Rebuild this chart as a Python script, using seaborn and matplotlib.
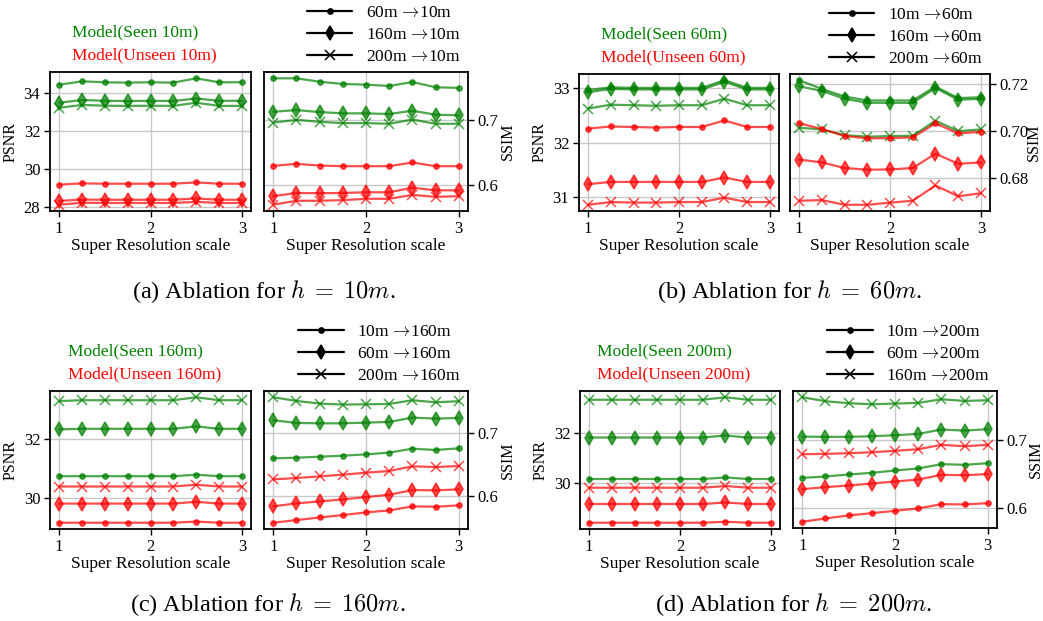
import numpy as np
import pandas as pd
import seaborn as sns
import matplotlib.pyplot as plt
from matplotlib.lines import Line2D
from matplotlib.ticker import FormatStrFormatter

# ---------------------------------------------------------------- data
scale = [1, 1.25, 1.5, 1.75, 2, 2.25, 2.5, 2.75, 3]

# (a) target height 10m, sources 60m / 160m / 200m
a_psnr_seen_60 = [34.45, 34.63, 34.58, 34.56, 34.58, 34.56, 34.79, 34.58, 34.58]
a_psnr_seen_160 = [33.50, 33.64, 33.60, 33.59, 33.60, 33.59, 33.72, 33.60, 33.60]
a_psnr_seen_200 = [33.23, 33.38, 33.34, 33.33, 33.34, 33.33, 33.50, 33.33, 33.33]
a_psnr_unseen_60 = [29.16, 29.23, 29.21, 29.21, 29.21, 29.21, 29.28, 29.21, 29.21]
a_psnr_unseen_160 = [28.30, 28.37, 28.36, 28.36, 28.36, 28.36, 28.43, 28.36, 28.36]
a_psnr_unseen_200 = [28.10, 28.20, 28.19, 28.19, 28.19, 28.19, 28.25, 28.19, 28.19]
a_ssim_seen_60 = [0.7637, 0.7637, 0.7585, 0.7550, 0.7540, 0.7520, 0.7580, 0.7500, 0.7490]
a_ssim_seen_160 = [0.7124, 0.7150, 0.7120, 0.7100, 0.7100, 0.7090, 0.7140, 0.7080, 0.7070]
a_ssim_seen_200 = [0.6959, 0.7000, 0.6970, 0.6950, 0.6950, 0.6940, 0.7005, 0.6940, 0.6940]
a_ssim_unseen_60 = [0.6295, 0.6326, 0.6300, 0.6290, 0.6290, 0.6290, 0.6347, 0.6290, 0.6290]
a_ssim_unseen_160 = [0.5830, 0.5880, 0.5876, 0.5880, 0.5890, 0.5890, 0.5960, 0.5920, 0.5920]
a_ssim_unseen_200 = [0.5700, 0.5760, 0.5760, 0.5770, 0.5790, 0.5790, 0.5850, 0.5820, 0.5830]

# (b) target height 60m, sources 10m / 160m / 200m
b_psnr_seen_10 = [32.97, 33.02, 33.01, 33.01, 33.01, 33.01, 33.15, 33.01, 33.01]
b_psnr_seen_160 = [32.93, 32.99, 32.98, 32.98, 32.98, 32.98, 33.12, 32.98, 32.98]
b_psnr_seen_200 = [32.63, 32.70, 32.69, 32.68, 32.69, 32.69, 32.81, 32.69, 32.69]
b_psnr_unseen_10 = [32.26, 32.30, 32.29, 32.28, 32.29, 32.29, 32.41, 32.29, 32.29]
b_psnr_unseen_160 = [31.24, 31.28, 31.28, 31.28, 31.28, 31.28, 31.36, 31.28, 31.28]
b_psnr_unseen_200 = [30.86, 30.91, 30.90, 30.90, 30.91, 30.91, 30.99, 30.91, 30.91]
b_ssim_seen_10 = [0.7216, 0.7179, 0.7147, 0.7130, 0.7130, 0.7130, 0.7189, 0.7140, 0.7144]
b_ssim_seen_160 = [0.7190, 0.7171, 0.7137, 0.7120, 0.7120, 0.7120, 0.7183, 0.7133, 0.7137]
b_ssim_seen_200 = [0.7014, 0.7007, 0.6983, 0.6976, 0.6979, 0.6980, 0.7044, 0.7000, 0.7007]
b_ssim_unseen_10 = [0.7033, 0.7009, 0.6979, 0.6969, 0.6970, 0.6973, 0.7033, 0.6990, 0.6997]
b_ssim_unseen_160 = [0.6879, 0.6867, 0.6843, 0.6836, 0.6837, 0.6843, 0.6904, 0.6861, 0.6867]
b_ssim_unseen_200 = [0.6704, 0.6707, 0.6687, 0.6687, 0.6696, 0.6704, 0.6769, 0.6723, 0.6736]

# (c) target height 160m, sources 10m / 60m / 200m
c_psnr_seen_10 = [30.73, 30.73, 30.73, 30.73, 30.73, 30.73, 30.78, 30.73, 30.73]
c_psnr_seen_60 = [32.32, 32.34, 32.34, 32.34, 32.34, 32.34, 32.42, 32.34, 32.34]
c_psnr_seen_200 = [33.28, 33.31, 33.31, 33.31, 33.31, 33.31, 33.41, 33.31, 33.31]
c_psnr_unseen_10 = [29.15, 29.15, 29.15, 29.15, 29.15, 29.15, 29.19, 29.15, 29.15]
c_psnr_unseen_60 = [29.80, 29.80, 29.80, 29.80, 29.80, 29.80, 29.86, 29.80, 29.80]
c_psnr_unseen_200 = [30.38, 30.38, 30.38, 30.38, 30.38, 30.38, 30.44, 30.38, 30.38]
c_ssim_seen_10 = [0.6598, 0.6608, 0.6624, 0.6640, 0.6661, 0.6688, 0.6751, 0.6730, 0.6757]
c_ssim_seen_60 = [0.7201, 0.7159, 0.7153, 0.7153, 0.7164, 0.7175, 0.7243, 0.7228, 0.7238]
c_ssim_seen_200 = [0.7566, 0.7508, 0.7466, 0.7450, 0.7455, 0.7460, 0.7519, 0.7487, 0.7503]
c_ssim_unseen_10 = [0.5577, 0.5619, 0.5661, 0.5698, 0.5741, 0.5772, 0.5836, 0.5830, 0.5852]
c_ssim_unseen_60 = [0.5836, 0.5884, 0.5915, 0.5947, 0.5984, 0.6021, 0.6095, 0.6090, 0.6106]
c_ssim_unseen_200 = [0.6265, 0.6286, 0.6312, 0.6339, 0.6370, 0.6397, 0.6471, 0.6460, 0.6476]

# (d) target height 200m, sources 10m / 60m / 160m
d_psnr_seen_10 = [30.15, 30.15, 30.15, 30.15, 30.15, 30.15, 30.21, 30.15, 30.15]
d_psnr_seen_60 = [31.81, 31.81, 31.81, 31.81, 31.81, 31.81, 31.89, 31.81, 31.81]
d_psnr_seen_160 = [33.32, 33.32, 33.32, 33.32, 33.32, 33.32, 33.42, 33.32, 33.32]
d_psnr_unseen_10 = [28.40, 28.40, 28.40, 28.40, 28.40, 28.40, 28.44, 28.40, 28.40]
d_psnr_unseen_60 = [29.15, 29.15, 29.15, 29.15, 29.15, 29.15, 29.21, 29.15, 29.15]
d_psnr_unseen_160 = [29.80, 29.80, 29.80, 29.80, 29.80, 29.80, 29.87, 29.80, 29.80]
d_ssim_seen_10 = [0.6444, 0.6464, 0.6493, 0.6517, 0.6551, 0.6580, 0.6643, 0.6633, 0.6657]
d_ssim_seen_60 = [0.7043, 0.7039, 0.7039, 0.7048, 0.7063, 0.7082, 0.7145, 0.7130, 0.7150]
d_ssim_seen_160 = [0.7614, 0.7556, 0.7527, 0.7512, 0.7522, 0.7531, 0.7585, 0.7560, 0.7570]
d_ssim_unseen_10 = [0.5807, 0.5855, 0.5899, 0.5932, 0.5966, 0.6000, 0.6063, 0.6058, 0.6077]
d_ssim_unseen_60 = [0.6280, 0.6310, 0.6333, 0.6362, 0.6391, 0.6420, 0.6488, 0.6483, 0.6498]
d_ssim_unseen_160 = [0.6787, 0.6792, 0.6802, 0.6816, 0.6836, 0.6860, 0.6923, 0.6903, 0.6923]

panels = [
    dict(tag="a", target="10m", sources=["60m", "160m", "200m"],
         psnr_seen=[a_psnr_seen_60, a_psnr_seen_160, a_psnr_seen_200],
         psnr_unseen=[a_psnr_unseen_60, a_psnr_unseen_160, a_psnr_unseen_200],
         ssim_seen=[a_ssim_seen_60, a_ssim_seen_160, a_ssim_seen_200],
         ssim_unseen=[a_ssim_unseen_60, a_ssim_unseen_160, a_ssim_unseen_200],
         psnr_ticks=[28, 30, 32, 34], ssim_ticks=[0.6, 0.7], ssim_fmt="%.1f"),
    dict(tag="b", target="60m", sources=["10m", "160m", "200m"],
         psnr_seen=[b_psnr_seen_10, b_psnr_seen_160, b_psnr_seen_200],
         psnr_unseen=[b_psnr_unseen_10, b_psnr_unseen_160, b_psnr_unseen_200],
         ssim_seen=[b_ssim_seen_10, b_ssim_seen_160, b_ssim_seen_200],
         ssim_unseen=[b_ssim_unseen_10, b_ssim_unseen_160, b_ssim_unseen_200],
         psnr_ticks=[31, 32, 33], ssim_ticks=[0.68, 0.70, 0.72], ssim_fmt="%.2f"),
    dict(tag="c", target="160m", sources=["10m", "60m", "200m"],
         psnr_seen=[c_psnr_seen_10, c_psnr_seen_60, c_psnr_seen_200],
         psnr_unseen=[c_psnr_unseen_10, c_psnr_unseen_60, c_psnr_unseen_200],
         ssim_seen=[c_ssim_seen_10, c_ssim_seen_60, c_ssim_seen_200],
         ssim_unseen=[c_ssim_unseen_10, c_ssim_unseen_60, c_ssim_unseen_200],
         psnr_ticks=[30, 32], ssim_ticks=[0.6, 0.7], ssim_fmt="%.1f"),
    dict(tag="d", target="200m", sources=["10m", "60m", "160m"],
         psnr_seen=[d_psnr_seen_10, d_psnr_seen_60, d_psnr_seen_160],
         psnr_unseen=[d_psnr_unseen_10, d_psnr_unseen_60, d_psnr_unseen_160],
         ssim_seen=[d_ssim_seen_10, d_ssim_seen_60, d_ssim_seen_160],
         ssim_unseen=[d_ssim_unseen_10, d_ssim_unseen_60, d_ssim_unseen_160],
         psnr_ticks=[30, 32], ssim_ticks=[0.6, 0.7], ssim_fmt="%.1f"),
]

# ---------------------------------------------------------------- style
sns.set_theme(style="whitegrid")
plt.rcParams.update({
    "font.family": ["Liberation Serif", "DejaVu Serif"],
    "mathtext.fontset": "cm",
    "axes.edgecolor": "black",
    "axes.linewidth": 1.3,
    "grid.color": "#c8c8c8",
    "grid.linewidth": 1.0,
    "xtick.bottom": True,
    "ytick.left": True,
    "xtick.major.size": 4,
    "ytick.major.size": 4,
    "xtick.major.width": 1.0,
    "ytick.major.width": 1.0,
    "xtick.major.pad": 3,
    "ytick.major.pad": 3,
    "xtick.color": "black",
    "ytick.color": "black",
    "xtick.labelsize": 12,
    "ytick.labelsize": 12,
    "axes.labelsize": 12.5,
    "axes.labelcolor": "black",
    "text.color": "black",
})

SEEN = "green"
UNSEEN = "red"
MARKERS = [".", "d", "x"]
MSIZE = {".": 7.5, "d": 7.5, "x": 6.5}
YLABEL_SIZE = 11.5

fig = plt.figure(figsize=(10.43, 6.21), dpi=100)
W, H = 1043.0, 621.0


def add_axes(left, right, top, bottom):
    return fig.add_axes([left / W, 1 - bottom / H, (right - left) / W, (bottom - top) / H])


# pixel boxes of the eight axes: (left, right, top, bottom), and the
# distance in pixels from the right spine to the SSIM label
boxes = {
    "a": [(50, 251, 72, 211), (264, 468, 72, 211), 32],
    "b": [(579, 779, 74, 211), (790, 990, 74, 211), 36],
    "c": [(50, 251, 391, 529), (264, 468, 391, 529), 32],
    "d": [(580, 780, 391, 529), (793, 997, 391, 528), 31],
}
captions = {"a": (264, 292), "b": (790, 292), "c": (268, 605), "d": (794, 605)}


def draw_series(ax, values, color, marker):
    sns.lineplot(x=scale, y=values, ax=ax, color=color, marker=marker,
                 markersize=MSIZE[marker], markeredgecolor=color,
                 markerfacecolor=color, markeredgewidth=1.1,
                 linewidth=1.6, alpha=0.7, legend=False)


for p in panels:
    lb, rb, label_off = boxes[p["tag"]]
    ax_p = add_axes(*lb)
    ax_s = add_axes(*rb)

    for vals, m in zip(p["psnr_seen"], MARKERS):
        draw_series(ax_p, vals, SEEN, m)
    for vals, m in zip(p["psnr_unseen"], MARKERS):
        draw_series(ax_p, vals, UNSEEN, m)
    for vals, m in zip(p["ssim_seen"], MARKERS):
        draw_series(ax_s, vals, SEEN, m)
    for vals, m in zip(p["ssim_unseen"], MARKERS):
        draw_series(ax_s, vals, UNSEEN, m)

    for ax in (ax_p, ax_s):
        ax.set_xticks([1, 2, 3])
        ax.set_xlabel("Super Resolution scale", labelpad=1)
        ax.grid(True)
        for s in ax.spines.values():
            s.set_color("black")
            s.set_linewidth(1.3)

    ax_p.set_yticks(p["psnr_ticks"])
    ax_p.set_ylabel("PSNR", labelpad=4, fontsize=YLABEL_SIZE)

    ax_s.set_yticks(p["ssim_ticks"])
    ax_s.yaxis.set_major_formatter(FormatStrFormatter(p["ssim_fmt"]))
    ax_s.yaxis.tick_right()
    ax_s.yaxis.set_label_position("right")
    ax_s.set_ylabel("SSIM", fontsize=YLABEL_SIZE)
    width_px = rb[1] - rb[0]
    ax_s.yaxis.set_label_coords(1 + label_off / width_px, 0.5)

    # seen / unseen text legend above the PSNR axes
    blank = [Line2D([], [], linestyle="none", marker="none") for _ in range(2)]
    ax_p.legend(blank, [f"Model(Seen {p['target']})", f"Model(Unseen {p['target']})"],
                loc="lower center", bbox_to_anchor=(0.47, 1.0),
                frameon=False, handlelength=0, handletextpad=0,
                labelcolor=[SEEN, UNSEEN], fontsize=12.5,
                labelspacing=0.4, borderaxespad=0.1)

    # source-height legend above the SSIM axes
    handles = [Line2D([], [], color="black", marker=m, markersize=MSIZE[m],
                      markeredgewidth=1.1, linewidth=1.6) for m in MARKERS]
    labels = [f"{s} $\\!\\rightarrow\\!${p['target']}" for s in p["sources"]]
    ax_s.legend(handles, labels, loc="lower right", bbox_to_anchor=(1.0, 1.0),
                frameon=False, fontsize=12.5, handlelength=2.6,
                labelspacing=0.35, borderaxespad=0.3, borderpad=0.1)

    cx, cy = captions[p["tag"]]
    fig.text(cx / W, 1 - cy / H,
             f"({p['tag']}) Ablation for $h\\;=\\;{p['target'][:-1]}m$.",
             ha="center", va="center", fontsize=17.5)

fig.savefig("out.png", dpi=100)
